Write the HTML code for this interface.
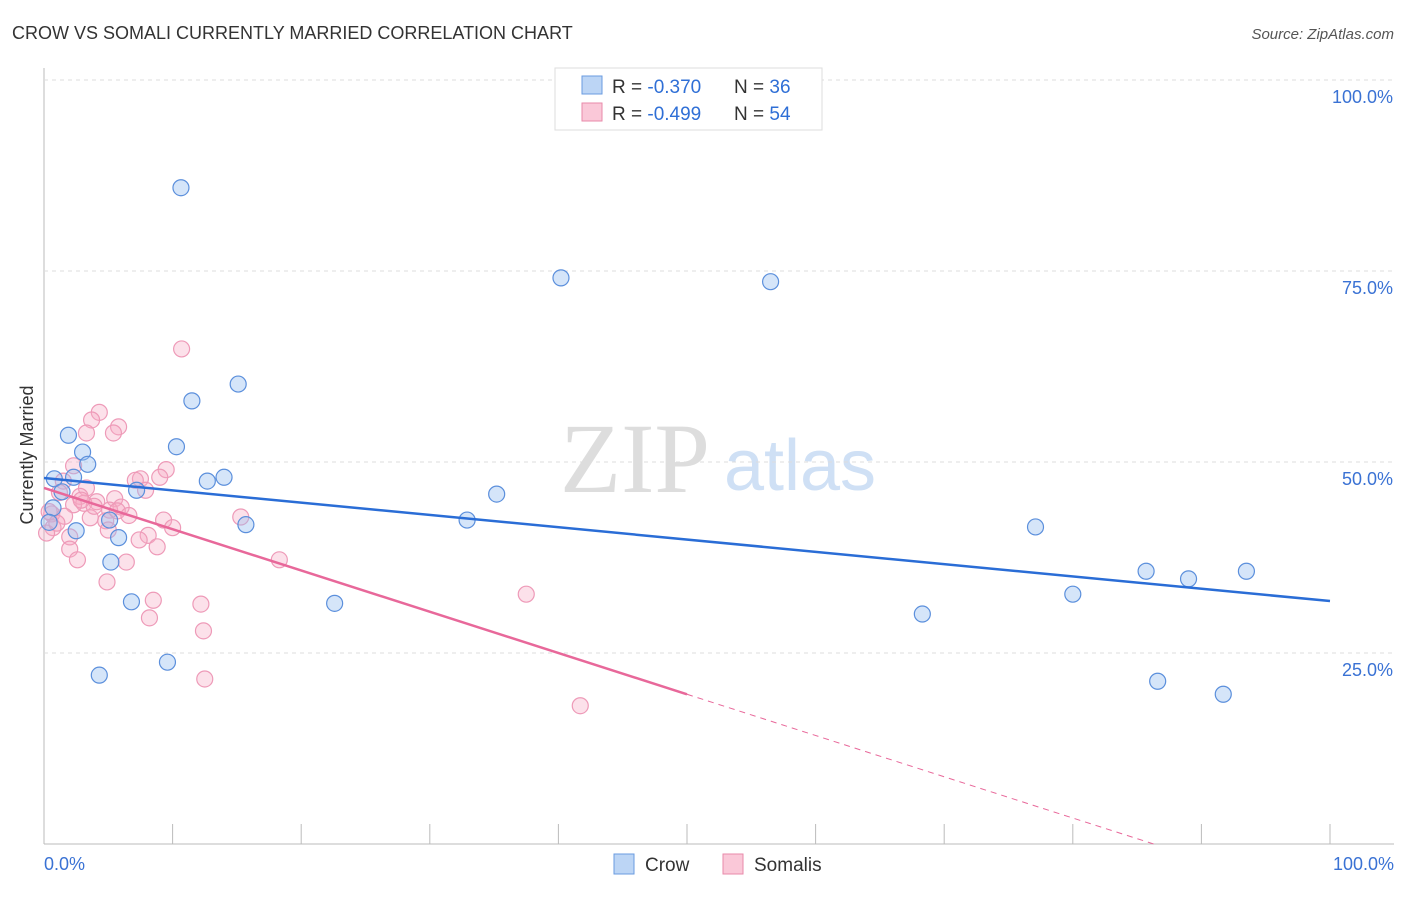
<!DOCTYPE html>
<html><head><meta charset="utf-8"><style>
body{margin:0;background:#fff;font-family:"Liberation Sans",sans-serif}
#c{position:relative;width:1406px;height:892px}
</style></head><body>
<div id="c">
<svg id="s" width="1406" height="892">
<text x="12" y="39" font-size="18" fill="#333">CROW VS SOMALI CURRENTLY MARRIED CORRELATION CHART</text>
<text x="1394" y="39" font-size="15" fill="#555" font-style="italic" text-anchor="end">Source: ZipAtlas.com</text>
<text x="33" y="455" font-size="18" fill="#333" transform="rotate(-90 33 455)" text-anchor="middle">Currently Married</text>
<g><text x="635" y="492" font-size="100" fill="#ddd" font-family="Liberation Serif" text-anchor="middle">ZIP</text><text x="800" y="490" font-size="72" fill="#cfe0f5" text-anchor="middle">atlas</text></g>
<g id="grid"></g><g id="pts"></g><g id="lines"></g>
<g>
<rect x="555" y="68" width="267" height="62" fill="#fff" stroke="#ddd"/>
<rect x="582" y="76" width="20" height="18" fill="#bcd5f5" stroke="#6a9be0"/>
<text x="612" y="93" font-size="19" fill="#333">R = <tspan fill="#2f6fd6">-0.370</tspan></text>
<text x="734" y="93" font-size="19" fill="#333">N = <tspan fill="#2f6fd6">36</tspan></text>
<rect x="582" y="103" width="20" height="18" fill="#fac8d8" stroke="#e88aaa"/>
<text x="612" y="120" font-size="19" fill="#333">R = <tspan fill="#2f6fd6">-0.499</tspan></text>
<text x="734" y="120" font-size="19" fill="#333">N = <tspan fill="#2f6fd6">54</tspan></text>
</g>
<g>
<rect x="614" y="854" width="20" height="20" fill="#bcd5f5" stroke="#6a9be0"/>
<text x="645" y="871" font-size="19" fill="#333">Crow</text>
<rect x="723" y="854" width="20" height="20" fill="#fac8d8" stroke="#e88aaa"/>
<text x="754" y="871" font-size="19" fill="#333">Somalis</text>
</g>
</svg></div>
<script>
const yTicks=[25,50,75,100];
const yTickLabels=["25.0%","50.0%","75.0%","100.0%"];
const crowX=[10.65,40.2,56.5,15.1,11.5,1.9,10.3,3.0,3.4,0.8,2.3,14.0,12.7,1.4,7.2,35.2,0.7,0.4,5.1,32.9,15.7,77.1,2.5,5.8,5.2,85.7,93.5,89.0,80.0,6.8,22.6,68.3,9.6,4.3,86.6,91.7];
const crowY=[85.9,74.1,73.6,60.2,58.0,53.5,52.0,51.3,49.7,47.8,48.0,48.0,47.5,46.1,46.3,45.8,44.0,42.1,42.4,42.4,41.8,41.5,41.0,40.1,36.9,35.7,35.7,34.7,32.7,31.7,31.5,30.1,23.8,22.1,21.3,19.6];
const somX=[10.7,4.3,3.7,5.8,5.4,3.3,2.3,9.5,9.0,7.5,7.1,1.5,3.3,7.9,2.8,5.5,4.1,3.1,2.3,6.0,5.1,5.7,0.6,1.6,3.6,15.3,4.8,9.3,10.0,0.7,5.0,0.2,8.1,7.4,2.0,8.8,2.0,6.4,18.3,2.6,4.9,37.5,8.5,12.2,8.2,12.4,12.5,41.7,1.2,0.4,3.9,6.6,2.9,1.0];
const somY=[64.8,56.5,55.5,54.6,53.8,53.8,49.5,49.0,48.0,47.8,47.6,47.5,46.6,46.3,45.5,45.2,44.8,44.6,44.4,44.1,43.7,43.6,43.2,42.9,42.7,42.8,42.3,42.4,41.4,41.4,41.1,40.7,40.4,39.8,40.2,38.9,38.6,36.9,37.2,37.2,34.3,32.7,31.9,31.4,29.6,27.9,21.6,18.1,46.0,43.5,44.2,43.0,45.0,42.0];
const crowLine=[47.9,31.8];
const somLine=[46.6,-0.54];
const X=v=>44+v*12.86, Y=v=>844-v*7.64;
const NS="http://www.w3.org/2000/svg";
function mk(t,a,p){const e=document.createElementNS(NS,t);for(const k in a)e.setAttribute(k,a[k]);p.appendChild(e);return e;}
const g=document.getElementById('grid');
let ax=mk('line',{x1:44,y1:68,x2:44,y2:844,stroke:'#bbb'},g);

let bx=mk('line',{x1:44,y1:844,x2:1394,y2:844,stroke:'#bbb'},g);

yTicks.forEach((t,i)=>{
 const l=mk('line',{x1:44,y1:Y(t),x2:1394,y2:Y(t),stroke:'#ddd','stroke-dasharray':'4,4'},g);
 
 const tx=mk('text',{x:1393,y:Y(t)+23,'font-size':18,fill:'#3a72d4','text-anchor':'end'},g);
 tx.textContent=yTickLabels[i];
 
});
for(let i=0;i<=10;i++){const l=mk('line',{x1:X(i*10),y1:824,x2:X(i*10),y2:844,stroke:'#bbb'},g);
 }
[[0,"0.0%","start",44],[100,"100.0%","end",1394]].forEach(d=>{const t=mk('text',{x:d[3],y:870,'font-size':18,fill:'#3a72d4','text-anchor':d[2]},g);t.textContent=d[1];
 });
const P=document.getElementById('pts');
somX.forEach((x,i)=>{const c=mk('circle',{cx:X(x),cy:Y(somY[i]),r:8,fill:'rgba(246,170,196,0.35)',stroke:'#ee9ab8','stroke-width':1.2},P);
 });
crowX.forEach((x,i)=>{const c=mk('circle',{cx:X(x),cy:Y(crowY[i]),r:8,fill:'rgba(150,190,240,0.4)',stroke:'#5b8fdc','stroke-width':1.2},P);
 });
const L=document.getElementById('lines');
let a=mk('line',{x1:X(0),y1:Y(crowLine[0]),x2:X(100),y2:Y(crowLine[1]),stroke:'#2a6dd6','stroke-width':2.5},L);

const sy=x=>somLine[0]+somLine[1]*x;
let b=mk('line',{x1:X(0),y1:Y(sy(0)),x2:X(50),y2:Y(sy(50)),stroke:'#e8689a','stroke-width':2.5},L);

const xe=-somLine[0]/somLine[1];
let d=mk('line',{x1:X(50),y1:Y(sy(50)),x2:X(xe),y2:Y(0),stroke:'#e8689a','stroke-width':1,'stroke-dasharray':'6,5'},L);

</script></body></html>
